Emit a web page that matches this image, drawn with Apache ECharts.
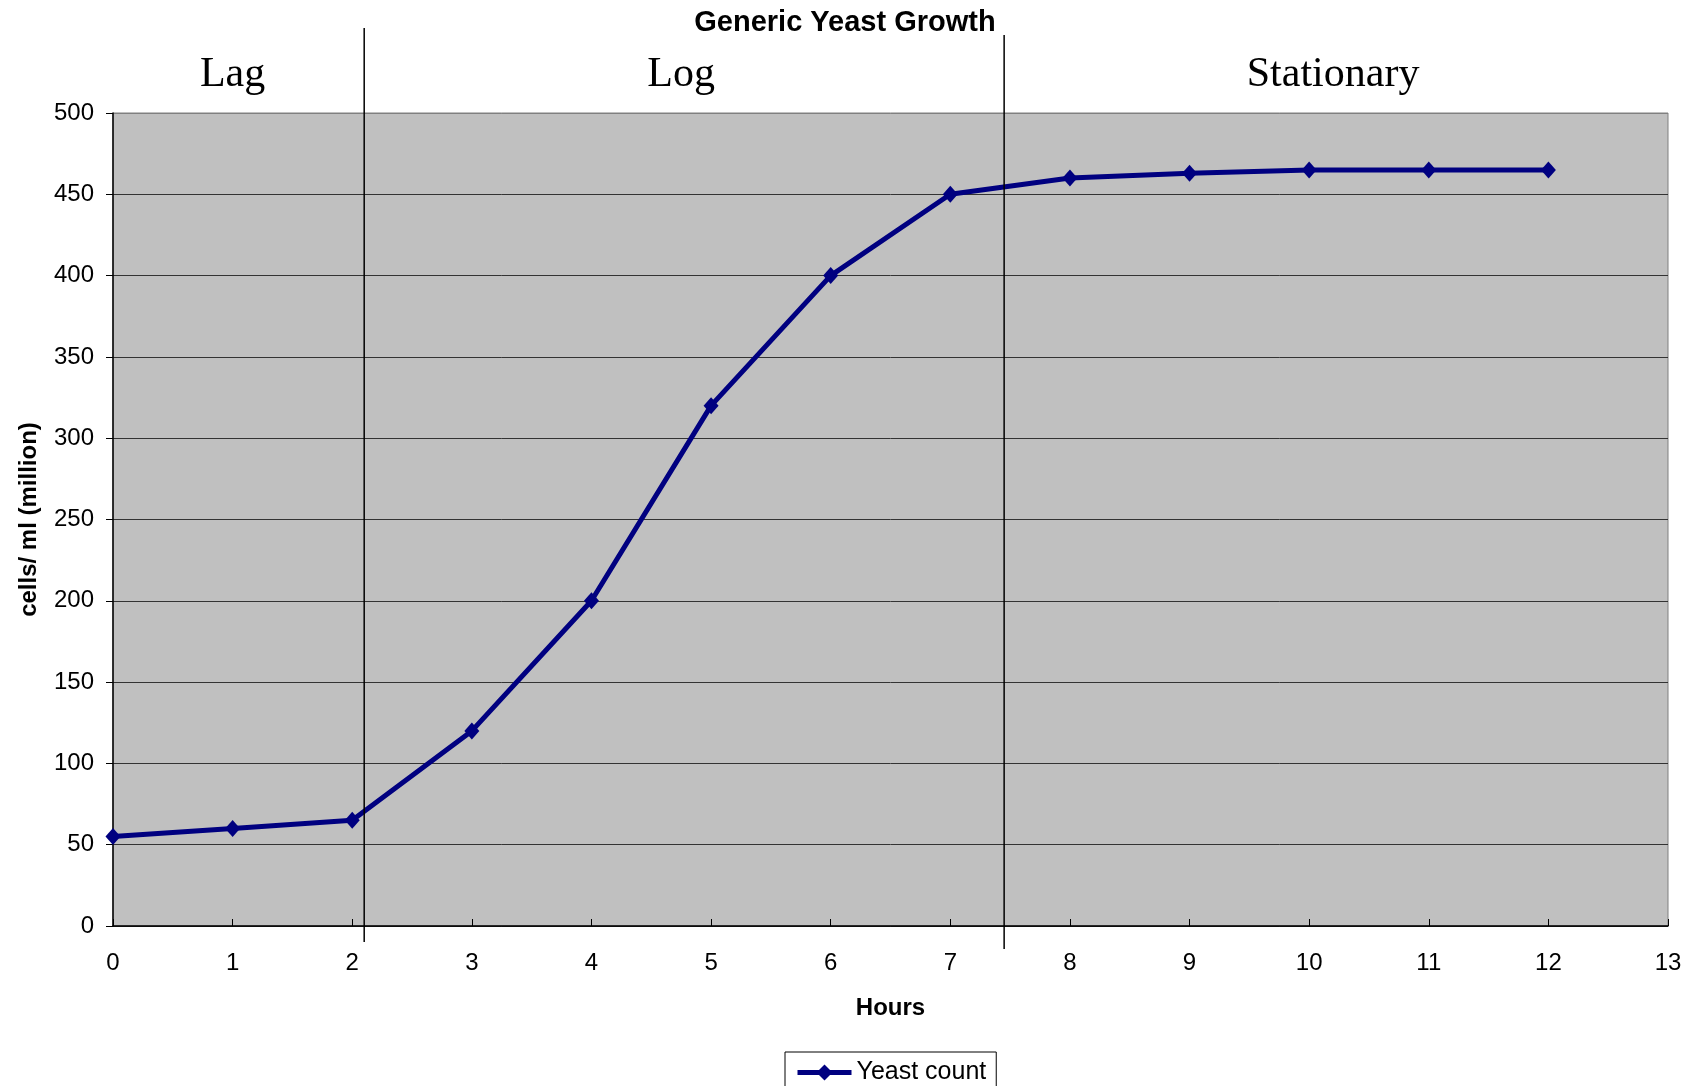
<!DOCTYPE html>
<html>
<head>
<meta charset="utf-8">
<title>Generic Yeast Growth</title>
<script src="https://cdn.jsdelivr.net/npm/echarts@6/dist/echarts.min.js"></script>
<style>
  html, body { margin: 0; padding: 0; background: #fff; }
  #chart { width: 1690px; height: 1086px; }
</style>
</head>
<body>
<div id="chart"></div>
<script>
// Yeast count over time (cells/ml, millions)
const hours = [0, 1, 2, 3, 4, 5, 6, 7, 8, 9, 10, 11, 12];
const yeastCount = [55, 60, 65, 120, 200, 320, 400, 450, 460, 463, 465, 465, 465];

// Growth phases: names, where their labels sit, and the boundaries between them (hours)
const phaseNames = ['Lag', 'Log', 'Stationary'];
const phaseLabelHours = [1.0, 4.75, 10.2];
const phaseBoundaryHours = [2.1, 7.45];

const SANS = '"Liberation Sans", Arial, sans-serif';
const SERIF = '"Liberation Serif", "Times New Roman", serif';

const chart = echarts.init(document.getElementById('chart'), null, { renderer: 'canvas' });

const splitColors = [];
for (let i = 0; i < 10; i++) splitColors.push('#333333');
splitColors.push('#808080');

chart.setOption({
  animation: false,
  backgroundColor: '#ffffff',
  title: {
    text: 'Generic Yeast Growth',
    left: 'center',
    top: 3,
    textStyle: { fontFamily: SANS, fontSize: 29, fontWeight: 'bold', color: '#000' }
  },
  legend: {
    data: ['Yeast count'],
    left: 785,
    top: 1052,
    padding: [8, 10, 8, 10],
    borderColor: '#000',
    borderWidth: 1,
    itemWidth: 54,
    itemHeight: 20,
    itemGap: 6,
    lineStyle: { width: 5 },
    textStyle: { fontFamily: SANS, fontSize: 25, color: '#000' }
  },
  grid: {
    left: 113,
    right: 22,
    top: 113,
    bottom: 160,
    show: true,
    backgroundColor: '#c0c0c0',
    borderColor: '#808080',
    borderWidth: 1
  },
  xAxis: {
    type: 'value',
    min: 0,
    max: 13,
    interval: 1,
    name: 'Hours',
    nameLocation: 'middle',
    nameGap: 70,
    nameTextStyle: { fontFamily: SANS, fontSize: 24, fontWeight: 'bold', color: '#000' },
    axisLine: { show: true, onZero: false, lineStyle: { color: '#000', width: 1.5 } },
    axisTick: { show: true, inside: true, length: 7, lineStyle: { color: '#000' } },
    axisLabel: { margin: 25, fontFamily: SANS, fontSize: 24, color: '#000' },
    splitLine: { show: false }
  },
  yAxis: {
    type: 'value',
    min: 0,
    max: 500,
    interval: 50,
    name: 'cells/ ml (million)',
    nameLocation: 'middle',
    nameGap: 72,
    nameTextStyle: { fontFamily: SANS, fontSize: 24, fontWeight: 'bold', color: '#000' },
    axisLine: { show: true, onZero: false, lineStyle: { color: '#000', width: 1.5 } },
    axisTick: { show: true, inside: false, length: 7, lineStyle: { color: '#000' } },
    axisLabel: { margin: 19, fontFamily: SANS, fontSize: 24, color: '#000' },
    splitLine: { show: true, lineStyle: { color: splitColors, width: 1 } }
  },
  series: [{
    name: 'Yeast count',
    type: 'line',
    data: hours.map((h, i) => [h, yeastCount[i]]),
    symbol: 'diamond',
    symbolSize: [15, 17],
    showAllSymbol: true,
    itemStyle: { color: '#000080' },
    lineStyle: { color: '#000080', width: 5 },
    z: 3
  }]
});

// Phase dividers and labels, placed through the x axis scale
const gridTop = 113;
const gridBottom = 1086 - 160;
const dividerExtents = [
  { above: 85, below: 16 },
  { above: 78, below: 23 }
];

const graphics = [];
phaseBoundaryHours.forEach((h, i) => {
  const x = chart.convertToPixel({ xAxisIndex: 0 }, h);
  graphics.push({
    type: 'line',
    z: 10,
    shape: { x1: x, y1: gridTop - dividerExtents[i].above, x2: x, y2: gridBottom + dividerExtents[i].below },
    style: { stroke: '#000', lineWidth: 1.5 }
  });
});
phaseNames.forEach((name, i) => {
  const x = chart.convertToPixel({ xAxisIndex: 0 }, phaseLabelHours[i]);
  graphics.push({
    type: 'text',
    z: 10,
    x: x,
    y: 75,
    style: {
      text: name,
      fontFamily: SERIF,
      fontSize: 42,
      fill: '#000',
      align: 'center',
      verticalAlign: 'middle'
    }
  });
});
chart.setOption({ graphic: graphics });
</script>
</body>
</html>
